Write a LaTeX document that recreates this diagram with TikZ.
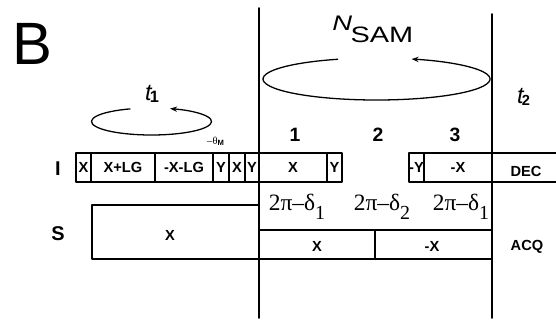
\documentclass[tikz,border=0pt]{standalone}
\usepackage{fontspec}
\setmainfont{Liberation Sans}
\newfontfamily\seriffam{Liberation Serif}
\usetikzlibrary{arrows.meta}
\tikzset{
  frame/.style={line width=1.6pt},
  cell/.style={font=\fontsize{12.5}{14}\selectfont\bfseries, inner sep=0pt},
  rowlab/.style={font=\fontsize{17}{19}\selectfont\bfseries, inner sep=0pt},
  seglab/.style={font=\fontsize{16.5}{18}\selectfont\bfseries, inner sep=0pt},
  phase/.style={font=\fontsize{20}{22}\selectfont\seriffam, inner sep=0pt, anchor=base},
  cycle/.style={line width=1.1pt, -{Stealth[length=6pt,width=4.5pt]}},
  every picture/.style={line cap=round, line join=round}
}
\newcommand{\phasetxt}[1]{2π–δ\raisebox{-8pt}{\fontsize{17}{19}\selectfont #1}}
\newcommand{\tlab}[2]{{\fontsize{20}{22}\selectfont\itshape t}\kern-1.5pt\raisebox{-2pt}{\fontsize{#2}{16}\selectfont\bfseries #1}}

\begin{document}
\begin{tikzpicture}[x=0.03cm, y=0.03cm]
  \useasboundingbox (0,0) rectangle (556,322);

  % panel letter
  \node[inner sep=0pt, font=\fontsize{51}{56}\selectfont] (panel) at (32,278.5) {B};

  % time axes
  \draw[frame] (259,4) -- (259,314);
  \draw[frame] (492,4) -- (492,308);

  % loops
  \coordinate (loopa) at (151.5,200.5);
  \coordinate (loopb) at (376.5,243);
  \draw[cycle] ([shift={(111:60 and 13.5)}]loopa) arc[start angle=111, end angle=432, x radius=60, y radius=13.5];
  \draw[cycle] ([shift={(110:113.5 and 21)}]loopb) arc[start angle=110, end angle=432, x radius=113.5, y radius=21];
  \node[anchor=base west, inner sep=0pt] (tone) at (145,222) {\tlab{1}{14}};
  \node[anchor=base west, inner sep=0pt] (ttwo) at (517,219) {\tlab{2}{12.5}};
  \node[anchor=base west, inner sep=0pt, xscale=1.3, font=\fontsize{18}{20}\selectfont] (nsam) at (332,292) {\textit{N}\kern-1pt\raisebox{-11pt}{\fontsize{19}{21}\selectfont SAM}};
  \node[anchor=base west, inner sep=0pt, font=\fontsize{9}{10}\selectfont] (theta) at (207,178) {{\seriffam –θ}\raisebox{-1.5pt}{\fontsize{6.5}{7}\selectfont\bfseries M}};

  % windows
  \node[seglab] (w1) at (295,187) {1};
  \node[seglab] (w2) at (378,187) {2};
  \node[seglab] (w3) at (455,187) {3};

  % I channel
  \node[rowlab] (chI) at (58,153) {I};
  \foreach \a/\b/\t in {76/91/X, 91/155/X+LG, 155/213/-X-LG, 213/229/Y, 229/245/X, 245/259/Y,
                        259/327/X, 327/342/Y, 409/424/-Y, 424/492/-X} {
    \draw[frame] (\a,140) rectangle (\b,169);
    \node[cell] (i\a) at ({(\a+\b)/2},154.5) {\t};
  }
  \draw[frame] (492,169) -- (560,169) (492,140) -- (560,140);
  \node[cell] (dec) at (526,151) {DEC};

  % phases
  \node[phase] (ph1) at (297,112) {\phasetxt{1}};
  \node[phase] (ph2) at (382,112) {\phasetxt{2}};
  \node[phase] (ph3) at (461,112) {\phasetxt{1}};

  % S channel
  \node[rowlab] (chS) at (58,88) {S};
  \draw[frame] (92,63) rectangle (259,117);
  \node[cell] (sx) at (170,87) {X};
  \draw[frame] (259,63) rectangle (492,92);
  \draw[frame] (375,63) -- (375,92);
  \node[cell] (acqa) at (317,76) {X};
  \node[cell] (acqb) at (432,76) {-X};
  \node[cell] (acq) at (527,75) {ACQ};
\end{tikzpicture}
\end{document}
